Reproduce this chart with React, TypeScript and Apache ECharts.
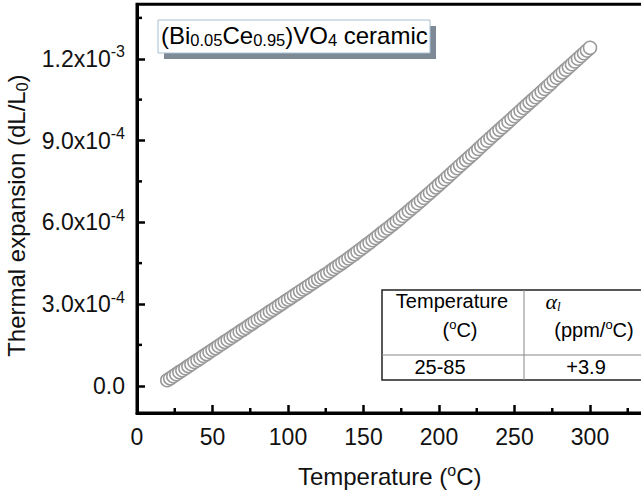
import React, { useEffect, useRef } from "react";
import * as echarts from "echarts";

// Temperature (°C)
const temperatureC = [
  20, 22, 24, 26, 28, 30, 32, 34, 36, 38, 40, 42, 44, 46, 48, 50, 52, 54, 56, 58,
  60, 62, 64, 66, 68, 70, 72, 74, 76, 78, 80, 82, 84, 86, 88, 90, 92, 94, 96, 98,
  100, 102, 104, 106, 108, 110, 112, 114, 116, 118, 120, 122, 124, 126, 128, 130, 132, 134, 136, 138,
  140, 142, 144, 146, 148, 150, 152, 154, 156, 158, 160, 162, 164, 166, 168, 170, 172, 174, 176, 178,
  180, 182, 184, 186, 188, 190, 192, 194, 196, 198, 200, 202, 204, 206, 208, 210, 212, 214, 216, 218,
  220, 222, 224, 226, 228, 230, 232, 234, 236, 238, 240, 242, 244, 246, 248, 250, 252, 254, 256, 258,
  260, 262, 264, 266, 268, 270, 272, 274, 276, 278, 280, 282, 284, 286, 288, 290, 292, 294, 296, 298,
  300,
];

// Thermal expansion dL/L0, in units of 1e-4
const expansionE4 = [
  0.20, 0.27, 0.35, 0.42, 0.50, 0.57, 0.64, 0.72, 0.79, 0.87, 0.94, 1.01, 1.09, 1.16, 1.24, 1.31, 1.38, 1.46, 1.53, 1.61,
  1.68, 1.75, 1.83, 1.90, 1.98, 2.05, 2.12, 2.20, 2.27, 2.35, 2.42, 2.49, 2.57, 2.64, 2.72, 2.79, 2.86, 2.94, 3.01, 3.09,
  3.16, 3.23, 3.31, 3.38, 3.46, 3.53, 3.60, 3.68, 3.75, 3.83, 3.90, 3.97, 4.05, 4.12, 4.20, 4.28, 4.36, 4.43, 4.51, 4.59,
  4.67, 4.75, 4.83, 4.92, 5.00, 5.08, 5.17, 5.25, 5.34, 5.42, 5.51, 5.60, 5.69, 5.77, 5.86, 5.95, 6.04, 6.13, 6.23, 6.32,
  6.41, 6.51, 6.60, 6.70, 6.79, 6.89, 6.99, 7.08, 7.18, 7.28, 7.38, 7.48, 7.58, 7.68, 7.78, 7.88, 7.98, 8.08, 8.18, 8.28,
  8.38, 8.48, 8.58, 8.69, 8.79, 8.89, 8.99, 9.09, 9.19, 9.29, 9.39, 9.49, 9.59, 9.69, 9.79, 9.89, 9.99, 10.09, 10.19, 10.29,
  10.39, 10.49, 10.59, 10.69, 10.79, 10.89, 10.99, 11.09, 11.20, 11.30, 11.40, 11.50, 11.60, 11.70, 11.80, 11.90, 12.00, 12.10, 12.20, 12.30,
  12.40,
];

const xTickValues = [0, 50, 100, 150, 200, 250, 300];
const xMinorTickValues = [25, 75, 125, 175, 225, 275, 325];
const yTickValues = [0, 3, 6, 9, 12];
const yMinorTickValues = [1.5, 4.5, 7.5, 10.5, 13.5];
const yTickMantissa = ["0.0", "3.0", "6.0", "9.0", "1.2"];
const yTickExponent = ["", "-4", "-4", "-4", "-3"];

const tableColumn1 = ["Temperature", "(°C)", "25-85"];
const tableColumn2 = ["α_l", "(ppm/°C)", "+3.9"];

const X_MIN = 0;
const X_MAX = 340;
const Y_MIN = -1;
const Y_MAX = 14;

const SANS = "'Liberation Sans', Arial, Helvetica, sans-serif";
const SERIF = "'Liberation Serif', 'Times New Roman', serif";
const INK = "#111";

export default function App() {
  const ref = useRef<HTMLDivElement>(null);

  useEffect(() => {
    if (!ref.current) return;
    const chart = echarts.init(ref.current, undefined, { renderer: "svg" });

    const nameRich = {
      n: { fontSize: 24, fontFamily: SANS, color: INK, lineHeight: 28, verticalAlign: "middle" },
      s: { fontSize: 16, fontFamily: SANS, color: INK, lineHeight: 12, verticalAlign: "top" },
      sub: { fontSize: 16, fontFamily: SANS, color: INK, lineHeight: 10, verticalAlign: "bottom" },
    };

    const tableRich = {
      t: { fontSize: 20, fontFamily: SANS, color: INK, lineHeight: 24, verticalAlign: "middle" },
      ts: { fontSize: 13, fontFamily: SANS, color: INK, lineHeight: 10, verticalAlign: "top" },
      a: { fontSize: 22, fontFamily: SERIF, fontStyle: "italic", color: INK, lineHeight: 24, verticalAlign: "middle" },
      al: { fontSize: 13, fontFamily: SERIF, fontStyle: "italic", color: INK, lineHeight: 8, verticalAlign: "bottom" },
    };

    const cellText = (s: string) => {
      if (s === "α_l") return "{a|α}{al|l}";
      if (s.indexOf("°C") >= 0) {
        const [before, after] = s.split("°");
        return `{t|${before}}{ts|o}{t|${after}}`;
      }
      return `{t|${s}}`;
    };

    const col1X = [452, 460, 440];
    const col2X = [553, 594, 586];
    const rowY = [301, 330, 367];

    const tableGraphics: any[] = [
      {
        type: "rect",
        shape: { x: 382, y: 290, width: 290, height: 90 },
        style: { fill: "#fff", stroke: "#222", lineWidth: 1.5 },
        z: 10,
      },
      {
        type: "line",
        shape: { x1: 524, y1: 290, x2: 524, y2: 380 },
        style: { stroke: "#888", lineWidth: 1 },
        z: 11,
      },
      {
        type: "line",
        shape: { x1: 382, y1: 355, x2: 672, y2: 355 },
        style: { stroke: "#888", lineWidth: 1 },
        z: 11,
      },
    ];
    tableColumn1.forEach((s, i) => {
      tableGraphics.push({
        type: "text",
        x: col1X[i],
        y: rowY[i],
        z: 12,
        style: { text: cellText(s), align: "center", verticalAlign: "middle", rich: tableRich },
      });
    });
    tableColumn2.forEach((s, i) => {
      tableGraphics.push({
        type: "text",
        x: col2X[i],
        y: rowY[i],
        z: 12,
        style: { text: cellText(s), align: "center", verticalAlign: "middle", rich: tableRich },
      });
    });

    const legendGraphics: any[] = [
      {
        type: "rect",
        shape: { x: 164, y: 26, width: 272, height: 33 },
        style: { fill: "#7d8a96" },
        z: 10,
      },
      {
        type: "rect",
        shape: { x: 158, y: 20, width: 272, height: 33 },
        style: { fill: "#fff", stroke: "#a7bfd2", lineWidth: 1 },
        z: 11,
      },
      {
        type: "text",
        x: 161,
        y: 35,
        z: 12,
        style: {
          text: "{m|(Bi}{b|0.05}{m|Ce}{b|0.95}{m|)VO}{b|4}{m| ceramic}",
          align: "left",
          verticalAlign: "middle",
          rich: {
            m: { fontSize: 24, fontFamily: SANS, color: INK, lineHeight: 26, verticalAlign: "middle" },
            b: { fontSize: 16.5, fontFamily: SANS, color: INK, lineHeight: 10, verticalAlign: "bottom" },
          },
        },
      },
    ];

    const tickLine = (dx: number, dy: number) => (params: any, api: any) => {
      const p = api.coord([api.value(0), api.value(1)]);
      return {
        type: "line",
        shape: { x1: p[0], y1: p[1], x2: p[0] + dx, y2: p[1] + dy },
        style: { stroke: "#000", lineWidth: 2.5 },
      };
    };

    const option: any = {
      animation: false,
      backgroundColor: "#fff",
      grid: {
        left: 137,
        top: 4.25,
        width: 513.4,
        height: 408.75,
        show: true,
        borderColor: "#000",
        borderWidth: 3,
        backgroundColor: "transparent",
        outerBoundsMode: "none",
      },
      xAxis: {
        type: "value",
        min: X_MIN,
        max: X_MAX,
        axisLine: { show: true, onZero: false, lineStyle: { color: "#000", width: 3 } },
        axisTick: { show: true, inside: true, length: 8, customValues: xTickValues, lineStyle: { color: "#000", width: 2.5 } },
        axisLabel: { show: true, customValues: xTickValues, fontSize: 23, fontFamily: SANS, color: INK, margin: 12 },
        splitLine: { show: false },
        name: "{n|Temperature (}{s|o}{n|C)}",
        nameLocation: "middle",
        nameGap: 49,
        nameTextStyle: { rich: nameRich, padding: [0, 8, 0, 0] },
      },
      yAxis: {
        type: "value",
        min: Y_MIN,
        max: Y_MAX,
        axisLine: { show: true, onZero: false, lineStyle: { color: "#000", width: 3 } },
        axisTick: { show: true, inside: true, length: 8, customValues: yTickValues, lineStyle: { color: "#000", width: 2.5 } },
        axisLabel: {
          show: true,
          customValues: yTickValues,
          margin: 12,
          formatter: (v: number) => {
            const i = yTickValues.findIndex((t) => Math.abs(t - v) < 1e-9);
            if (i < 0) return "";
            return yTickExponent[i]
              ? `{m|${yTickMantissa[i]}x10}{e|${yTickExponent[i]}}`
              : `{m|${yTickMantissa[i]}}`;
          },
          rich: {
            m: { fontSize: 23, fontFamily: SANS, color: INK, lineHeight: 30, verticalAlign: "middle" },
            e: { fontSize: 16, fontFamily: SANS, color: INK, lineHeight: 12, verticalAlign: "top" },
          },
        },
        splitLine: { show: false },
        name: "{n|Thermal expansion (dL/L}{sub|0}{n|)}",
        nameLocation: "middle",
        nameGap: 102,
        nameRotate: 90,
        nameTextStyle: { rich: nameRich, padding: [0, 14, 0, 0] },
      },
      series: [
        {
          type: "scatter",
          data: temperatureC.map((t, i) => [t, expansionE4[i]]),
          symbol: "circle",
          symbolSize: 13,
          itemStyle: { color: "#fff", borderColor: "#999", borderWidth: 1.5, opacity: 1 },
          silent: true,
          z: 3,
        },
        {
          type: "custom",
          data: xMinorTickValues.map((v) => [v, Y_MIN]),
          renderItem: tickLine(0, -5),
          clip: false,
          silent: true,
          z: 4,
        },
        {
          type: "custom",
          data: yMinorTickValues.map((v) => [X_MIN, v]),
          renderItem: tickLine(5, 0),
          clip: false,
          silent: true,
          z: 4,
        },
      ],
      graphic: [...legendGraphics, ...tableGraphics],
    };

    chart.setOption(option);
    return () => {
      chart.dispose();
    };
  }, []);

  return (
    <div
      style={{
        position: "fixed",
        left: 0,
        top: 0,
        width: 641,
        height: 493,
        overflow: "hidden",
        background: "#fff",
      }}
    >
      <div ref={ref} style={{ width: 680, height: 493 }} />
    </div>
  );
}
